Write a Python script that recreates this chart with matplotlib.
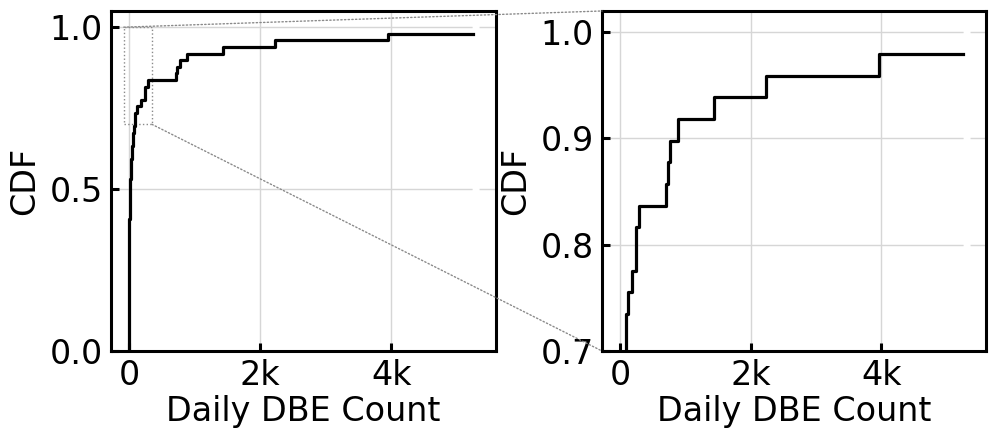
import numpy as np
import matplotlib
matplotlib.use("Agg")
import matplotlib.pyplot as plt
from matplotlib.patches import Rectangle, ConnectionPatch
from matplotlib.ticker import FuncFormatter

# daily DBE counts (one value per day)
daily_counts = [0, 0, 0, 0, 1, 1, 1, 1, 2, 2, 2, 3, 3, 3, 4, 4, 5, 5, 6, 7, 8,
                9, 11, 13, 16, 20, 25, 30, 36, 43, 50, 57, 64, 72, 85, 95,
                122, 178, 248, 248, 294, 711, 731, 772, 883, 1442, 2228,
                3959, 5249]

x_ticks = [0, 2000, 4000]
left_yticks = [0.0, 0.5, 1.0]
right_yticks = [0.7, 0.8, 0.9, 1.0]

zoom_x = (-80, 350)
zoom_y = (0.7, 1.0)

FS = 24
GRID = "#d6d6d6"
ZOOM_COL = "#8a8a8a"

xs = np.sort(daily_counts)
cdf = np.arange(len(xs)) / len(xs)


def kfmt(v, pos):
    return "0" if v == 0 else "%dk" % int(round(v / 1000))


def style(ax, yticks, ylim, yfmt):
    ax.step(xs, cdf, where="pre", color="black", linewidth=2.3, zorder=3)
    ax.set_xlim(-275, 5600)
    ax.set_ylim(*ylim)
    ax.set_xticks(x_ticks)
    ax.xaxis.set_major_formatter(FuncFormatter(kfmt))
    ax.set_yticks(yticks)
    ax.set_yticklabels([yfmt % t for t in yticks])
    ax.grid(True, color=GRID, linewidth=1.0, linestyle=(0, (260, 5)), zorder=0)
    ax.tick_params(direction="in", length=6, width=2.2, labelsize=FS,
                   top=False, right=False, pad=6)
    for s in ax.spines.values():
        s.set_linewidth(2.2)
    ax.set_xlabel("Daily DBE Count", fontsize=FS, labelpad=2)
    ax.set_ylabel("CDF", fontsize=FS, labelpad=6)


fig = plt.figure(figsize=(9.97, 4.41), dpi=100)
ax1 = fig.add_axes([0.1113, 0.2041, 0.3862, 0.771])
ax2 = fig.add_axes([0.6038, 0.2041, 0.3852, 0.771])

style(ax1, left_yticks, (0, 1.05), "%.1f")
style(ax2, right_yticks, (0.7, 1.02), "%.1f")

# zoom box on the left panel
ax1.add_patch(Rectangle((zoom_x[0], zoom_y[0]), zoom_x[1] - zoom_x[0],
                        zoom_y[1] - zoom_y[0], fill=False, edgecolor=ZOOM_COL,
                        linestyle=":", linewidth=1.0, zorder=2))

# connectors: box top-left -> right panel top-left, box bottom-right -> bottom-left
for a, b in [((zoom_x[0], zoom_y[1]), (0, 1)), ((zoom_x[1], zoom_y[0]), (0, 0))]:
    con = ConnectionPatch(xyA=a, coordsA=ax1.transData, xyB=b,
                          coordsB=ax2.transAxes, color=ZOOM_COL,
                          linestyle=":", linewidth=1.0)
    fig.add_artist(con)

fig.savefig("out.png", dpi=100)
